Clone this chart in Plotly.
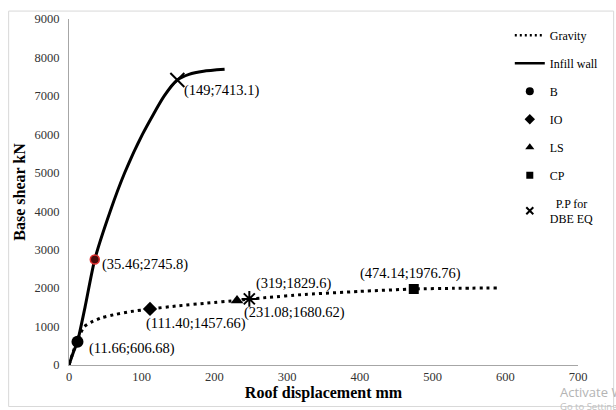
import plotly.graph_objects as go

# Pushover curves: roof displacement (mm) vs. base shear (kN)
gravity_disp = [0, 5, 9, 15, 21, 30, 45, 65, 85, 111.4, 150, 190, 231.08, 275, 319, 400, 474.14, 530, 590]
gravity_shear = [0, 300, 520, 800, 1000, 1110, 1230, 1320, 1390, 1457.66, 1540, 1610, 1680.62, 1760, 1829.6, 1915, 1976.76, 1995, 2005]

infill_disp = [0, 6, 11.66, 22, 35.46, 56.7, 76.6, 101, 131, 149, 165, 185, 214]
infill_shear = [0, 330, 606.68, 1500, 2745.8, 4000, 5000, 6000, 7000, 7413.1, 7560, 7640, 7690]

# Labelled performance points, "disp;shear" as printed
labelled_points = ["11.66;606.68", "35.46;2745.8", "149;7413.1", "111.40;1457.66",
                   "231.08;1680.62", "319;1829.6", "474.14;1976.76"]

# Performance point on the gravity curve (unlabelled)
pp_gravity_disp = [248]
pp_gravity_shear = [1720]

legend_names = ["Gravity", "Infill wall", "B", "IO", "LS", "CP", "&nbsp;&nbsp;P.P for<br>DBE EQ"]


def parse(s):
    d, v = s.split(";")
    return float(d), float(v), s


pts = [parse(s) for s in labelled_points]
b1, b2, pp_inf, io, ls, g319, cp = pts

SERIF = "Liberation Serif, Times New Roman, serif"
fig = go.Figure()

fig.add_trace(go.Scatter(x=gravity_disp, y=gravity_shear, mode="lines", showlegend=False,
                         line=dict(color="black", width=3, dash="3px,4px", shape="spline", smoothing=0.5)))
fig.add_trace(go.Scatter(x=infill_disp, y=infill_shear, mode="lines", showlegend=False,
                         line=dict(color="black", width=3, shape="spline", smoothing=0.6)))

# markers on the curves
fig.add_trace(go.Scatter(x=[b1[0]], y=[b1[1]], mode="markers", showlegend=False,
                         marker=dict(symbol="circle", size=12, color="black")))
fig.add_trace(go.Scatter(x=[b2[0]], y=[b2[1]], mode="markers", showlegend=False,
                         marker=dict(symbol="circle", size=9, color="#4a0c0c",
                                     line=dict(color="#e03030", width=1.5))))
fig.add_trace(go.Scatter(x=[io[0]], y=[io[1]], mode="markers", showlegend=False,
                         marker=dict(symbol="diamond", size=11, color="black")))
fig.add_trace(go.Scatter(x=[ls[0]], y=[ls[1]], mode="markers", showlegend=False,
                         marker=dict(symbol="triangle-up", size=11, color="black")))
fig.add_trace(go.Scatter(x=[cp[0]], y=[cp[1]], mode="markers", showlegend=False,
                         marker=dict(symbol="square", size=10, color="black")))
fig.add_trace(go.Scatter(x=[pp_inf[0]], y=[pp_inf[1]], mode="markers", showlegend=False,
                         marker=dict(symbol="x-thin-open", size=14, color="black",
                                     line=dict(color="black", width=2))))
fig.add_trace(go.Scatter(x=pp_gravity_disp, y=pp_gravity_shear, mode="markers", showlegend=False,
                         marker=dict(symbol="asterisk-open", size=13, color="black",
                                     line=dict(color="black", width=2))))

# legend entries
legend_styles = [
    dict(mode="lines", line=dict(color="black", width=2.5, dash="2px,3px")),
    dict(mode="lines", line=dict(color="black", width=2.5)),
    dict(mode="markers", marker=dict(symbol="circle", size=8, color="black")),
    dict(mode="markers", marker=dict(symbol="diamond", size=8, color="black")),
    dict(mode="markers", marker=dict(symbol="triangle-up", size=8, color="black")),
    dict(mode="markers", marker=dict(symbol="square", size=7, color="black")),
    dict(mode="markers", marker=dict(symbol="x-thin-open", size=7, color="black",
                                     line=dict(color="black", width=2))),
]
for i, (name, st) in enumerate(zip(legend_names, legend_styles)):
    fig.add_trace(go.Scatter(x=[None], y=[None], name=name, legendgroup=f"g{i}", showlegend=True, **st))

# value labels
label_offsets = {
    b1[2]: ("left", 10, -7),
    b2[2]: ("left", 5, -5),
    pp_inf[2]: ("left", 5, -10),
    io[2]: ("left", -6, -15),
    ls[2]: ("left", 5, -12),
    g319[2]: ("center", -7, 11),
    cp[2]: ("center", -3, 16),
}
for d, v, s in pts:
    anchor, xs, ys = label_offsets[s]
    fig.add_annotation(x=d, y=v, text=f"({s})", showarrow=False, xanchor=anchor, yanchor="middle",
                       xshift=xs, yshift=ys, font=dict(family=SERIF, size=14.5, color="black"))

# chart-area frame
fig.add_shape(type="rect", xref="paper", yref="paper", x0=-0.1186, x1=1.07, y0=-0.12, y1=1.0229,
              line=dict(color="#d9d9d9", width=1), fillcolor="rgba(0,0,0,0)", layer="below")

# system watermark
fig.add_annotation(xref="paper", yref="paper", x=0.9615, y=-0.077, xanchor="left", yanchor="middle",
                   text="Activate Windows", showarrow=False,
                   font=dict(family="Open Sans, sans-serif", size=13, color="#b4b4b4"))
fig.add_annotation(xref="paper", yref="paper", x=0.9615, y=-0.121, xanchor="left", yanchor="middle",
                   text="Go to Settings to activate Windows.", showarrow=False,
                   font=dict(family="Open Sans, sans-serif", size=9.5, color="#c0c0c0"))

fig.update_layout(
    width=616, height=410,
    margin=dict(l=68.5, r=29, t=15, b=45),
    paper_bgcolor="white", plot_bgcolor="white",
    showlegend=True,
    legend=dict(x=0.866, y=0.995, xanchor="left", yanchor="top", bgcolor="rgba(0,0,0,0)",
                font=dict(family=SERIF, size=12, color="black"), tracegroupgap=9),
    xaxis=dict(range=[0, 700], dtick=100, showgrid=False, zeroline=False, showline=True,
               linecolor="#a6a6a6", linewidth=1, ticks="",
               tickfont=dict(family=SERIF, size=12.5, color="#333333"),
               title=dict(text="Roof displacement mm", standoff=2,
                          font=dict(family=SERIF, size=16, color="black", weight="bold"))),
    yaxis=dict(range=[0, 9000], dtick=1000, showgrid=False, zeroline=False, showline=True,
               linecolor="#a6a6a6", linewidth=1, ticks="", ticklabelstandoff=6,
               tickfont=dict(family=SERIF, size=12.5, color="#333333"),
               title=dict(text="Base shear kN", standoff=4,
                          font=dict(family=SERIF, size=16, color="black", weight="bold"))),
)

fig.write_html("out.html")
